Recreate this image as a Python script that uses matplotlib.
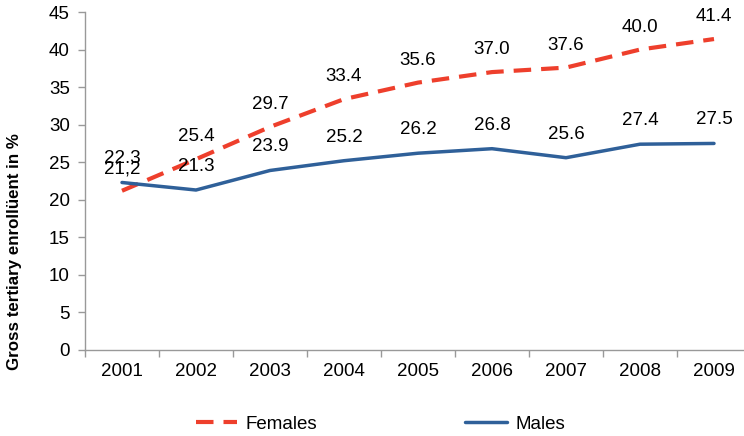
import matplotlib
matplotlib.use("Agg")
import matplotlib.pyplot as plt

years = ["2001", "2002", "2003", "2004", "2005", "2006", "2007", "2008", "2009"]
females = [21.2, 25.4, 29.7, 33.4, 35.6, 37.0, 37.6, 40.0, 41.4]
males = [22.3, 21.3, 23.9, 25.2, 26.2, 26.8, 25.6, 27.4, 27.5]
female_labels = ["21,2", "25.4", "29.7", "33.4", "35.6", "37.0", "37.6", "40.0", "41.4"]
male_labels = ["22.3", "21.3", "23.9", "25.2", "26.2", "26.8", "25.6", "27.4", "27.5"]
yticks = [0, 5, 10, 15, 20, 25, 30, 35, 40, 45]

plt.rcParams['font.family'] = ['Liberation Sans', 'DejaVu Sans']

W, H = 744, 436
fig = plt.figure(figsize=(W / 100, H / 100), dpi=100)
left, right, top, bottom = 85, 751, 12, 350
ax = fig.add_axes([left / W, 1 - bottom / H, (right - left) / W, (bottom - top) / H])

FS = 13.5
red = '#EE3F2C'
blue = '#2F6099'
x = list(range(len(years)))
lf, = ax.plot(x, females, color=red, lw=3.0, dashes=(4.2, 2.4), label='Females',
              solid_capstyle='butt', dash_capstyle='butt')
lm, = ax.plot(x, males, color=blue, lw=2.5, label='Males', solid_capstyle='round')

for xi, v, s in zip(x, females, female_labels):
    ax.annotate(s, (xi, v), xytext=(0, 16), textcoords='offset points',
                ha='center', va='center', fontsize=FS, color='black')
for xi, v, s in zip(x, males, male_labels):
    ax.annotate(s, (xi, v), xytext=(0, 17), textcoords='offset points',
                ha='center', va='center', fontsize=FS, color='black')

ax.set_xlim(-0.5, len(years) - 0.5)
ax.set_ylim(0, 45)
ax.set_yticks(yticks)
ax.set_yticklabels([str(t) for t in yticks], fontsize=FS)
ax.set_xticks([i - 0.5 for i in range(len(years) + 1)])
ax.set_xticklabels([])
ax.set_xticks(x, minor=True)
ax.set_xticklabels(years, minor=True, fontsize=FS)
ax.tick_params(axis='x', which='minor', length=0, pad=9)
ax.tick_params(axis='x', which='major', length=5, color='#999999', width=1)
ax.tick_params(axis='y', length=5, color='#999999', width=1, pad=6)

for s in ['top', 'right']:
    ax.spines[s].set_visible(False)
for s in ['left', 'bottom']:
    ax.spines[s].set_color('#999999')
    ax.spines[s].set_linewidth(1)

fig.text(15 / W, 1 - 252 / H, 'Gross tertiary enrollüent in %', rotation=90,
         ha='center', va='center', fontsize=12.2, fontweight='bold')

fig.legend(handles=[lf, lm], loc='center left', bbox_to_anchor=(196 / W, 1 - 424 / H),
           ncol=2, frameon=False, fontsize=FS, handlelength=2.2, handletextpad=0.45,
           columnspacing=7.9, borderaxespad=0, borderpad=0)

fig.savefig('out.png', dpi=100)
